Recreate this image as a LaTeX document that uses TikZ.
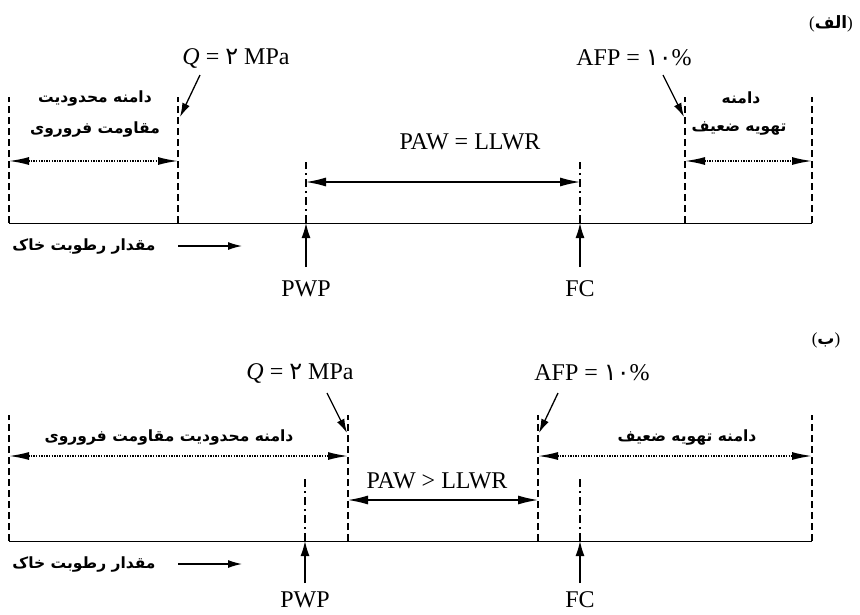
\documentclass[tikz,border=0pt]{standalone}
\usepackage{fontspec}
\setmainfont{Liberation Serif}
\newfontfamily\fa[Script=Arabic]{DejaVu Sans}
\TeXXeTstate=1
\usetikzlibrary{arrows.meta}
\tikzset{
  baseln/.style={line width=1pt},
  bound/.style={line width=1.1pt, dash pattern=on 7pt off 4pt},
  dashdotln/.style={line width=1.1pt, dash pattern=on 8pt off 4pt on 2pt off 4pt},
  dotarrow/.style={line width=1.6pt, dash pattern=on 1.4pt off 1.2pt,
     {Latex[length=20pt,width=8pt]}-{Latex[length=20pt,width=8pt]}},
  solidarrow/.style={line width=1.3pt,
     {Latex[length=20pt,width=9pt]}-{Latex[length=20pt,width=9pt]}},
  pointer/.style={line width=1.3pt, -{Latex[length=14pt,width=8pt]}},
  uparrow/.style={line width=1.3pt, -{Latex[length=15pt,width=9pt]}},
  lbl/.style={font=\fontsize{24}{27}\selectfont, inner sep=0pt},
  fatext/.style={font=\fa\bfseries\fontsize{15.5}{18}\selectfont, inner sep=0pt},
  panellbl/.style={font=\fontsize{17}{20}\selectfont, inner sep=0pt},
}
\begin{document}
\begin{tikzpicture}[x=1pt,y=-1pt]
\useasboundingbox (0,0) rectangle (860,614);

% ================= Panel (alef) =================
\node[panellbl] (labA) at (831,24) {(\hbox{\fa\bfseries\beginR الف\endR})};
\node[lbl] (qA) at (236,58) {{\itshape Q} = {\fa ۲} MPa};
\node[lbl] (afpA) at (634,58) {AFP = {\fa ۱۰}\%};
\node[lbl] (pawA) at (470,142) {PAW = LLWR};
\node[fatext] (faA1) at (95,98) {\beginR دامنه محدودیت\endR};
\node[fatext] (faA2) at (95,129) {\beginR مقاومت فروروی\endR};
\node[fatext] (faA3) at (741,98) {\beginR دامنه\endR};
\node[fatext] (faA4) at (739,129) {\beginR تهویه ضعیف\endR};
\node[fatext] (moistA) at (84,246) {\beginR مقدار رطوبت خاک\endR};
\node[lbl] (pwpA) at (306,289) {PWP};
\node[lbl] (fcA) at (580,289) {FC};

\coordinate (bA0) at (9,223);   \coordinate (tA0) at (9,97);
\coordinate (bA1) at (178,223); \coordinate (tA1) at (178,97);
\coordinate (bA2) at (306,223); \coordinate (tA2) at (306,162);
\coordinate (bA3) at (580,223); \coordinate (tA3) at (580,162);
\coordinate (bA4) at (685,223); \coordinate (tA4) at (685,97);
\coordinate (bA5) at (812,223); \coordinate (tA5) at (812,97);

\draw[baseln] (bA0) -- (bA5);
\draw[bound] (bA0) -- (tA0);
\draw[bound] (bA1) -- (tA1);
\draw[dashdotln] (bA2) -- (tA2);
\draw[dashdotln] (bA3) -- (tA3);
\draw[bound] (bA4) -- (tA4);
\draw[bound] (bA5) -- (tA5);

\coordinate (dA0) at (9,161);   \coordinate (dA1) at (178,161);
\coordinate (dA4) at (685,161); \coordinate (dA5) at (812,161);
\draw[dotarrow] (dA0) -- (dA1);
\draw[dotarrow] (dA4) -- (dA5);
\coordinate (sA2) at (306,182); \coordinate (sA3) at (580,182);
\draw[solidarrow] (sA2) -- (sA3);

\coordinate (pqA0) at (200,75);  \coordinate (pqA1) at (180,117);
\draw[pointer] (pqA0) -- (pqA1);
\coordinate (paA0) at (663,75);  \coordinate (paA1) at (684,117);
\draw[pointer] (paA0) -- (paA1);

\coordinate (mA0) at (178,246); \coordinate (mA1) at (242,246);
\draw[pointer] (mA0) -- (mA1);
\coordinate (upA2) at (306,267); \coordinate (upA3) at (580,267);
\draw[uparrow] (upA2) -- (bA2);
\draw[uparrow] (upA3) -- (bA3);

% ================= Panel (be) =================
\node[panellbl] (labB) at (826,340) {(\hbox{\fa\bfseries\beginR ب\endR})};
\node[lbl] (qB) at (300,373) {{\itshape Q} = {\fa ۲} MPa};
\node[lbl] (afpB) at (592,373) {AFP = {\fa ۱۰}\%};
\node[lbl] (pawB) at (437,481) {PAW > LLWR};
\node[fatext] (faB1) at (169,437) {\beginR دامنه محدودیت مقاومت فروروی\endR};
\node[fatext] (faB2) at (687,437) {\beginR دامنه تهویه ضعیف\endR};
\node[fatext] (moistB) at (84,564) {\beginR مقدار رطوبت خاک\endR};
\node[lbl] (pwpB) at (305,600) {PWP};
\node[lbl] (fcB) at (580,600) {FC};

\coordinate (bB0) at (9,541);   \coordinate (tB0) at (9,415);
\coordinate (bB1) at (305,541); \coordinate (tB1) at (305,478);
\coordinate (bB2) at (348,541); \coordinate (tB2) at (348,415);
\coordinate (bB3) at (538,541); \coordinate (tB3) at (538,415);
\coordinate (bB4) at (580,541); \coordinate (tB4) at (580,478);
\coordinate (bB5) at (812,541); \coordinate (tB5) at (812,415);

\draw[baseln] (bB0) -- (bB5);
\draw[bound] (bB0) -- (tB0);
\draw[dashdotln] (bB1) -- (tB1);
\draw[bound] (bB2) -- (tB2);
\draw[bound] (bB3) -- (tB3);
\draw[dashdotln] (bB4) -- (tB4);
\draw[bound] (bB5) -- (tB5);

\coordinate (dB0) at (9,456);   \coordinate (dB2) at (348,456);
\coordinate (dB3) at (538,456); \coordinate (dB5) at (812,456);
\draw[dotarrow] (dB0) -- (dB2);
\draw[dotarrow] (dB3) -- (dB5);
\coordinate (sB2) at (348,500); \coordinate (sB3) at (538,500);
\draw[solidarrow] (sB2) -- (sB3);

\coordinate (pqB0) at (327,393); \coordinate (pqB1) at (347,433);
\draw[pointer] (pqB0) -- (pqB1);
\coordinate (paB0) at (558,393); \coordinate (paB1) at (539,433);
\draw[pointer] (paB0) -- (paB1);

\coordinate (mB0) at (178,564); \coordinate (mB1) at (242,564);
\draw[pointer] (mB0) -- (mB1);
\coordinate (upB1) at (305,583); \coordinate (upB4) at (580,583);
\draw[uparrow] (upB1) -- (bB1);
\draw[uparrow] (upB4) -- (bB4);
\end{tikzpicture}
\end{document}
